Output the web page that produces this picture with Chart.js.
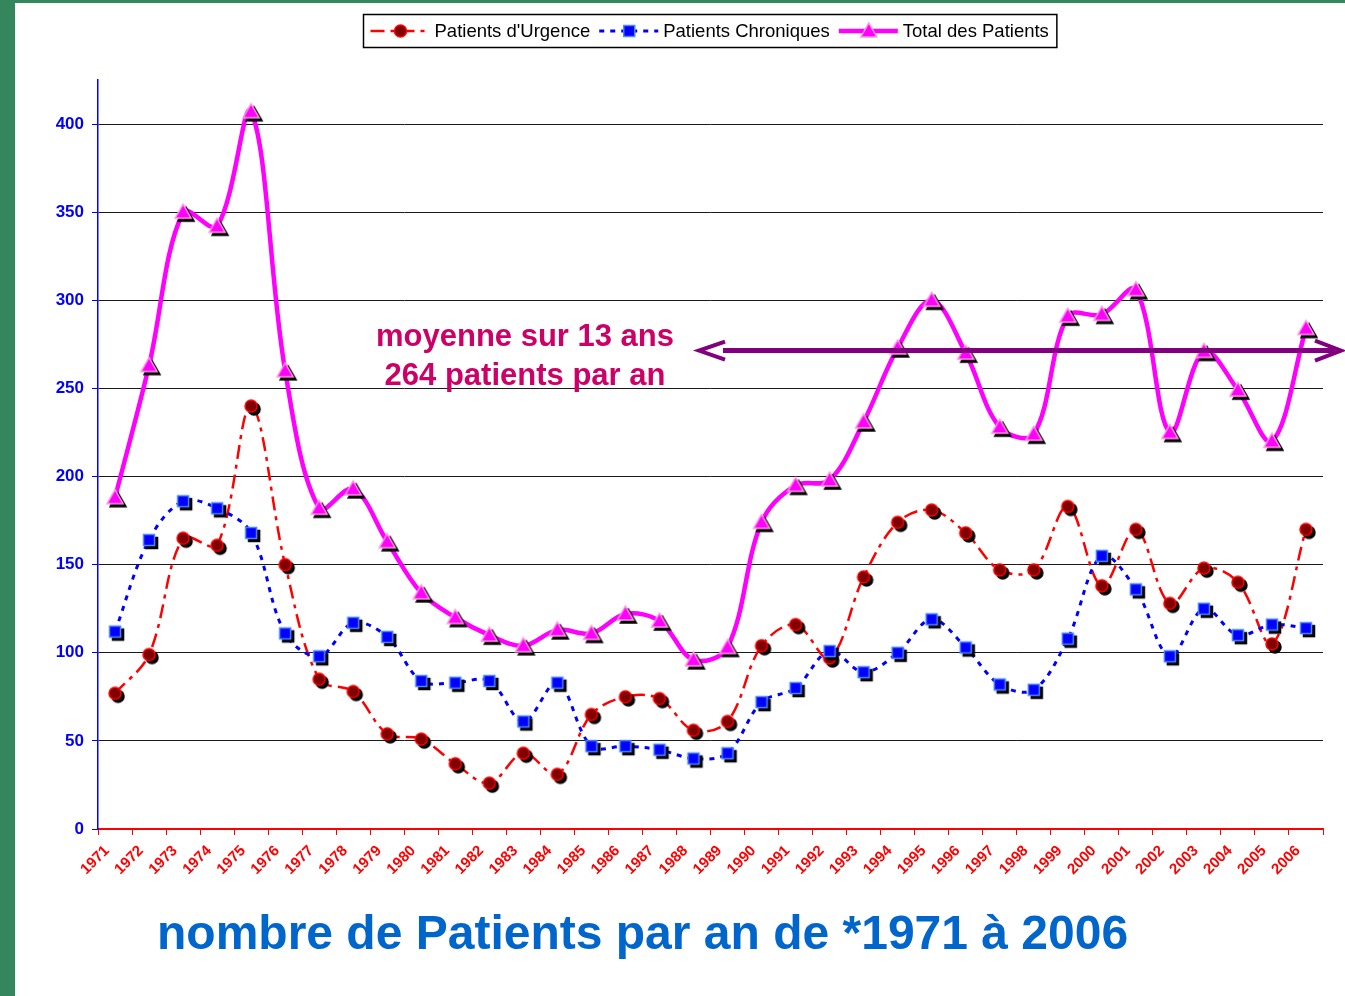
<!DOCTYPE html>
<html lang="fr">
<head>
<meta charset="UTF-8">
<title>Patients par an 1971-2006</title>
<style>
  html, body { margin: 0; padding: 0; }
  body { width: 1345px; height: 996px; background: #34865d; position: relative; overflow: hidden; }
  .page { position: absolute; left: 15px; top: 3px; width: 1330px; height: 993px; background: #fff; }
  #chart { position: absolute; left: 0; top: 0; }
  .titre { position: absolute; left: 142px; top: 906px; font: bold 48px "Liberation Sans", Arial, sans-serif;
           line-height: 48px; color: #0066cc; white-space: nowrap; }
</style>
</head>
<body>
<div class="page">
  <canvas id="chart" width="1330" height="993"></canvas>
  <div class="titre">nombre de Patients par an de *1971 à 2006</div>
</div>
<script src="https://cdn.jsdelivr.net/npm/chart.js"></script>
<script>
const years = ['1971','1972','1973','1974','1975','1976','1977','1978','1979','1980','1981','1982',
  '1983','1984','1985','1986','1987','1988','1989','1990','1991','1992','1993','1994','1995','1996',
  '1997','1998','1999','2000','2001','2002','2003','2004','2005','2006'];

const urgence = [77, 99, 165, 161, 240, 150, 85, 78, 54, 51, 37, 26,
  43, 31, 65, 75, 74, 56, 61, 104, 116, 97, 143, 174, 181, 168,
  147, 147, 183, 138, 170, 128, 148, 140, 105, 170];

const chroniques = [112, 164, 186, 182, 168, 111, 98, 117, 109, 84, 83, 84,
  61, 83, 47, 47, 45, 40, 43, 72, 80, 101, 89, 100, 119, 103,
  82, 79, 108, 155, 136, 98, 125, 110, 116, 114];

const total = [188, 263, 350, 342, 407, 260, 182, 193, 163, 134, 120, 110,
  104, 113, 111, 122, 118, 96, 103, 174, 195, 198, 231, 273, 300, 270,
  228, 224, 291, 292, 306, 225, 271, 249, 220, 284];

const yTicks = [0, 50, 100, 150, 200, 250, 300, 350, 400];
const moyenne = 271.5;
const noteLines = ['moyenne sur 13 ans', '264 patients par an'];

const FONT = '"Liberation Sans", Arial, sans-serif';

function shape(g, kind, cx, cy, fill, stroke) {
  g.fillStyle = fill; g.strokeStyle = stroke; g.lineWidth = 1.5;
  g.beginPath();
  if (kind === 'circle') {
    g.arc(cx, cy, 6, 0, Math.PI * 2);
  } else if (kind === 'square') {
    g.rect(cx - 5.5, cy - 5.5, 11, 11);
  } else {
    g.moveTo(cx, cy - 8); g.lineTo(cx + 8, cy + 6); g.lineTo(cx - 8, cy + 6); g.closePath();
  }
  g.fill(); g.stroke();
}

function marker(kind, fill, stroke) {
  const c = document.createElement('canvas');
  c.width = 28; c.height = 28;
  const g = c.getContext('2d');
  shape(g, kind, 17, 17, '#000', '#000');
  shape(g, kind, 14, 14, fill, stroke);
  return c;
}

const styles = [
  { kind: 'circle', fill: '#800000', stroke: '#ff0000', line: '#ff0000', width: 2.5, dash: [14, 6, 4, 6] },
  { kind: 'square', fill: '#0000ff', stroke: '#4d88ff', line: '#0000ff', width: 3, dash: [5, 6] },
  { kind: 'triangle', fill: '#ff00ff', stroke: '#ff99dd', line: '#ff00ff', width: 4.5, dash: [] }
];

// légende encadrée, comme dans Excel
const legendBox = {
  id: 'legendBox',
  afterDraw(chart) {
    const ctx = chart.ctx;
    const sets = chart.data.datasets;
    ctx.save();
    ctx.font = '18.5px ' + FONT;
    const widths = sets.map(d => 64 + ctx.measureText(d.label).width + 9);
    const w = widths.reduce((a, b) => a + b, 0) + 6;
    const cx = (chart.chartArea.left + chart.chartArea.right) / 2 - 1;
    const left = Math.round(cx - w / 2) + 0.5, top = 11.5, h = 33;
    ctx.fillStyle = '#fff';
    ctx.fillRect(left, top, w, h);
    ctx.strokeStyle = '#000'; ctx.lineWidth = 1.5;
    ctx.strokeRect(left, top, w, h);
    let x = left + 7;
    const y = top + h / 2;
    sets.forEach((d, i) => {
      const s = styles[i];
      ctx.strokeStyle = s.line; ctx.lineWidth = s.width;
      ctx.setLineDash(s.dash);
      ctx.beginPath(); ctx.moveTo(x, y); ctx.lineTo(x + 59, y); ctx.stroke();
      ctx.setLineDash([]);
      shape(ctx, s.kind, x + 30, y, s.fill, s.stroke);
      ctx.fillStyle = '#000'; ctx.textBaseline = 'middle'; ctx.textAlign = 'left';
      ctx.fillText(d.label, x + 64, y + 1);
      x += widths[i];
    });
    ctx.restore();
  }
};

// texte de la moyenne et flèche double
const moyennePlugin = {
  id: 'moyenne',
  afterDatasetsDraw(chart) {
    const ctx = chart.ctx;
    const a = chart.chartArea;
    const y = chart.scales.y.getPixelForValue(moyenne);
    const x1 = a.left + 599, x2 = a.right + 20;
    ctx.save();
    ctx.strokeStyle = '#800080';
    ctx.lineWidth = 5;
    ctx.beginPath(); ctx.moveTo(x1 + 26, y); ctx.lineTo(x2 - 8, y); ctx.stroke();
    ctx.lineWidth = 4; ctx.lineJoin = 'miter';
    ctx.beginPath(); ctx.moveTo(x1 + 28, y - 9); ctx.lineTo(x1 + 2, y); ctx.lineTo(x1 + 28, y + 9); ctx.stroke();
    ctx.beginPath(); ctx.moveTo(x2 - 28, y - 10); ctx.lineTo(x2 - 2, y); ctx.lineTo(x2 - 28, y + 10); ctx.stroke();
    ctx.fillStyle = '#cc0066';
    ctx.font = 'bold 31px ' + FONT;
    ctx.textAlign = 'center'; ctx.textBaseline = 'middle';
    ctx.fillText(noteLines[0], a.left + 427, y - 13);
    ctx.fillText(noteLines[1], a.left + 427, y + 26);
    ctx.restore();
  }
};

const datasets = [
  { label: "Patients d'Urgence", data: urgence, order: 2 },
  { label: 'Patients Chroniques', data: chroniques, order: 1 },
  { label: 'Total des Patients', data: total, order: 0 }
].map((d, i) => {
  const s = styles[i];
  return Object.assign(d, {
    borderColor: s.line,
    borderWidth: s.width,
    borderDash: s.dash,
    pointStyle: marker(s.kind, s.fill, s.stroke),
    pointRadius: 7,
    tension: 0.35,
    fill: false
  });
});

new Chart(document.getElementById('chart'), {
  type: 'line',
  data: { labels: years, datasets: datasets },
  options: {
    responsive: false,
    animation: false,
    devicePixelRatio: 1,
    layout: { padding: { left: 0, right: 22, top: 77, bottom: 107 } },
    plugins: { legend: { display: false }, tooltip: { enabled: false } },
    scales: {
      x: {
        offset: true,
        grid: { offset: true, drawOnChartArea: false, color: '#ff0000', tickLength: 6 },
        border: { color: '#ff0000', width: 2 },
        ticks: {
          color: '#ff0000', autoSkip: false, minRotation: 45, maxRotation: 45,
          padding: 7, labelOffset: -8,
          font: { family: FONT, size: 15, weight: 'bold' }
        },
        afterFit: s => { s.height = 60; }
      },
      y: {
        min: 0, max: 425,
        afterBuildTicks: s => { s.ticks = yTicks.map(v => ({ value: v })); },
        grid: {
          color: c => (c.tick && c.tick.value === 0) ? 'rgba(0,0,0,0)' : '#1a1a1a',
          tickColor: '#0000ff', tickLength: 6, lineWidth: 1
        },
        border: { color: '#0000ff', width: 1.5 },
        ticks: { color: '#0000ff', padding: 8, font: { family: FONT, size: 17, weight: 'bold' } },
        afterFit: s => { s.width = 83; }
      }
    }
  },
  plugins: [moyennePlugin, legendBox]
});
</script>
</body>
</html>
